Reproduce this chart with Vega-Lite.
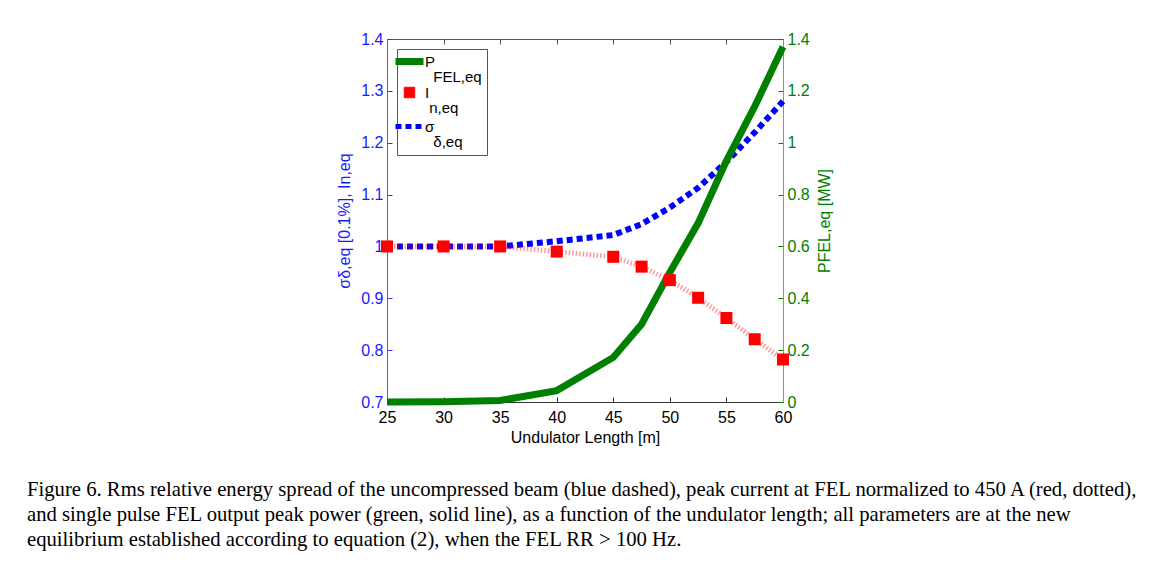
{
  "$schema": "https://vega.github.io/schema/vega-lite/v6.json",
  "width": 396,
  "height": 363,
  "autosize": {"type": "none"},
  "padding": {"left": 387, "top": 39, "right": 387, "bottom": 162},
  "background": "white",
  "config": {
    "view": {"stroke": "#555555", "strokeWidth": 1},
    "font": "Liberation Sans",
    "axis": {"grid": false, "labelFont": "Liberation Sans", "titleFont": "Liberation Sans", "titleFontWeight": "normal", "labelFontSize": 16, "titleFontSize": 16}
  },
  "data": {
    "values": [
      {"length": 25, "series": "σ", "value": 1.0},
      {"length": 30, "series": "σ", "value": 1.0},
      {"length": 35, "series": "σ", "value": 1.0},
      {"length": 40, "series": "σ", "value": 1.01},
      {"length": 45, "series": "σ", "value": 1.022},
      {"length": 47.5, "series": "σ", "value": 1.043},
      {"length": 50, "series": "σ", "value": 1.075},
      {"length": 52.5, "series": "σ", "value": 1.113},
      {"length": 55, "series": "σ", "value": 1.163},
      {"length": 57.5, "series": "σ", "value": 1.22},
      {"length": 60, "series": "σ", "value": 1.28},
      {"length": 25, "series": "I", "value": 1.0},
      {"length": 30, "series": "I", "value": 1.0},
      {"length": 35, "series": "I", "value": 1.0},
      {"length": 40, "series": "I", "value": 0.99},
      {"length": 45, "series": "I", "value": 0.98},
      {"length": 47.5, "series": "I", "value": 0.961},
      {"length": 50, "series": "I", "value": 0.935},
      {"length": 52.5, "series": "I", "value": 0.901},
      {"length": 55, "series": "I", "value": 0.862},
      {"length": 57.5, "series": "I", "value": 0.821},
      {"length": 60, "series": "I", "value": 0.782},
      {"length": 25, "series": "P", "value": 0.0},
      {"length": 30, "series": "P", "value": 0.001},
      {"length": 35, "series": "P", "value": 0.006},
      {"length": 40, "series": "P", "value": 0.044},
      {"length": 45, "series": "P", "value": 0.172},
      {"length": 47.5, "series": "P", "value": 0.3},
      {"length": 50, "series": "P", "value": 0.5},
      {"length": 52.5, "series": "P", "value": 0.69},
      {"length": 55, "series": "P", "value": 0.93},
      {"length": 57.5, "series": "P", "value": 1.14},
      {"length": 60, "series": "P", "value": 1.37}
    ]
  },
  "title": {
    "text": [
      "Figure 6. Rms relative energy spread of the uncompressed beam (blue dashed), peak current at FEL normalized to 450 A (red, dotted),",
      "and single pulse FEL output peak power (green, solid line), as a function of the undulator length; all parameters are at the new",
      "equilibrium established according to equation (2), when the FEL RR > 100 Hz."
    ],
    "orient": "bottom",
    "anchor": "start",
    "frame": "group",
    "dx": -360,
    "offset": 35,
    "font": "Liberation Serif",
    "fontSize": 20.7,
    "fontWeight": "normal",
    "lineHeight": 25,
    "color": "black"
  },
  "layer": [
    {
      "transform": [{"filter": "datum.series === 'σ'"}],
      "mark": {"type": "line", "strokeWidth": 6, "strokeDash": [6, 4], "strokeCap": "butt"},
      "encoding": {
        "x": {"field": "length", "type": "quantitative", "scale": {"domain": [25, 60]},
          "axis": {"orient": "bottom", "values": [25, 30, 35, 40, 45, 50, 55, 60], "title": "Undulator Length [m]", "titlePadding": 4, "labelColor": "black", "titleColor": "black", "tickSize": -5, "labelPadding": 12, "tickColor": "#333333", "domainColor": "#333333", "labelFlush": false}},
        "y": {"field": "value", "type": "quantitative", "scale": {"domain": [0.7, 1.4]},
          "axis": {"orient": "left", "values": [0.7, 0.8, 0.9, 1.0, 1.1, 1.2, 1.3, 1.4], "format": ".1~f", "title": "σδ,eq [0.1%],   In,eq", "labelColor": "#1a1aff", "titleColor": "#1a1aff", "tickColor": "#3333ff", "domainColor": "#5555ff", "tickSize": -5, "labelPadding": 9, "titlePadding": 8}},
        "color": {"field": "series", "type": "nominal",
          "scale": {"domain": ["P", "I", "σ"], "range": ["#007f00", "#ff0000", "#0000ff"]},
          "legend": {
            "orient": "top-left", "offset": 10, "title": null,
            "strokeColor": "#555555", "fillColor": "white", "padding": 5,
            "labelFont": "Liberation Sans", "labelFontSize": 15, "labelColor": "black", "labelOffset": 8,
            "labelExpr": "datum.label === 'P' ? ['P', '\u200b\u00a0\u00a0FEL,eq'] : datum.label === 'I' ? ['I', '\u200b\u00a0n,eq'] : ['σ', '\u200b\u00a0\u00a0δ,eq']",
            "symbolSize": 784, "symbolType": "stroke", "symbolStrokeWidth": 5, "rowPadding": 0,
            "encode": {
              "labels": {"update": {"lineHeight": {"value": 15}}},
              "symbols": {
                "update": {
                  "shape": {"signal": "datum.value === 'I' ? 'square' : 'stroke'"},
                  "size": {"signal": "datum.value === 'I' ? 110 : 784"},
                  "fill": {"scale": "color", "field": "value"},
                  "stroke": {"scale": "color", "field": "value"},
                  "strokeWidth": {"signal": "datum.value === 'P' ? 7 : datum.value === 'I' ? 1 : 5"},
                  "strokeDash": {"signal": "datum.value === 'σ' ? [6, 4] : [1, 0]"},
                  "opacity": {"value": 1}
                }
              }
            }
          }}
      }
    },
    {
      "transform": [{"filter": "datum.series === 'I'"}],
      "mark": {"type": "line", "strokeWidth": 5, "strokeDash": [1.5, 2], "opacity": 0.4, "strokeCap": "butt"},
      "encoding": {
        "x": {"field": "length", "type": "quantitative", "scale": {"domain": [25, 60]}, "axis": null},
        "y": {"field": "value", "type": "quantitative", "scale": {"domain": [0.7, 1.4]}, "axis": null},
        "color": {"field": "series", "type": "nominal"}
      }
    },
    {
      "transform": [{"filter": "datum.series === 'P'"}],
      "mark": {"type": "line", "strokeWidth": 7, "strokeCap": "butt"},
      "encoding": {
        "x": {"field": "length", "type": "quantitative", "scale": {"domain": [25, 60]},
          "axis": {"orient": "top", "values": [30, 35, 40, 45, 50, 55], "labels": false, "title": null, "tickSize": -5, "tickColor": "#555555", "domain": false}},
        "y": {"field": "value", "type": "quantitative", "scale": {"domain": [0, 1.4]},
          "axis": {"orient": "right", "values": [0, 0.2, 0.4, 0.6, 0.8, 1.0, 1.2, 1.4], "format": ".1~f", "title": "PFEL,eq [MW]", "titleAngle": 270, "labelColor": "#008000", "titleColor": "#008000", "tickColor": "#008000", "domainColor": "#6a9f9f", "tickSize": -5, "labelPadding": 9, "titlePadding": 23}},
        "color": {"field": "series", "type": "nominal"}
      }
    },
    {
      "transform": [{"filter": "datum.series === 'I'"}],
      "mark": {"type": "point", "shape": "square", "filled": true, "size": 144, "opacity": 1},
      "encoding": {
        "x": {"field": "length", "type": "quantitative", "scale": {"domain": [25, 60]}, "axis": null},
        "y": {"field": "value", "type": "quantitative", "scale": {"domain": [0.7, 1.4]}, "axis": null},
        "color": {"field": "series", "type": "nominal"}
      }
    }
  ],
  "resolve": {"scale": {"y": "independent"}, "axis": {"x": "independent", "y": "independent"}}
}
